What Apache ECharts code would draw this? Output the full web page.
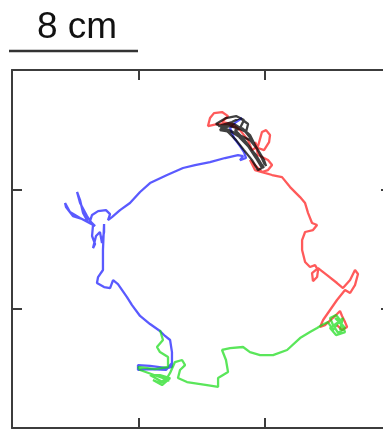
<!DOCTYPE html>
<html><head><meta charset="utf-8">
<script src="https://cdn.jsdelivr.net/npm/echarts@6/dist/echarts.min.js"></script>
<style>html,body{margin:0;padding:0;background:#fff}#c{width:383px;height:431px}</style>
</head><body><div id="c"></div>
<script>
// Trajectories, positions in cm (x to the right, y upward)
var blueTrack = [[14.57,20.78],[14.19,20.51],[13.81,20.11],[14.06,19.44],[14.44,18.90],[14.69,18.50],[14.82,18.10],[14.44,17.96],[14.63,18.23],[14.31,18.30],[13.49,18.10],[12.54,17.83],[11.59,17.63],[10.83,17.43],[9.82,16.96],[8.74,16.42],[8.11,15.82],[7.47,15.08],[6.84,14.61],[6.33,14.14],[6.08,13.94],[6.21,14.34],[5.95,14.61],[5.45,14.54],[5.07,14.28],[4.94,13.87],[5.26,13.54],[4.43,14.01],[3.86,14.21],[3.42,14.81],[3.36,15.08],[3.67,14.48],[4.31,14.08],[4.81,13.81],[4.50,14.41],[4.31,15.28],[4.12,15.82],[4.31,15.08],[4.75,14.21],[5.13,13.61],[5.07,12.87],[5.26,12.33],[5.13,12.06],[5.32,12.87],[5.57,13.14],[5.70,12.40],[5.83,13.14],[5.83,13.67],[5.76,11.93],[5.76,10.59],[5.45,10.12],[5.38,9.72],[5.83,9.45],[6.21,9.38],[6.40,9.92],[6.71,9.65],[7.28,8.78],[7.60,8.24],[8.11,7.51],[8.74,6.97],[9.37,6.50],[9.69,6.17],[10.01,5.90],[10.13,5.09],[10.13,4.09],[9.82,4.02],[8.74,4.16],[7.98,4.22],[7.98,3.89],[8.74,3.95],[9.75,3.89],[10.13,4.36]];
var redTrack = [[14.19,20.11],[13.68,20.38],[13.05,20.38],[12.41,20.24],[12.54,20.78],[12.79,21.11],[13.30,21.18],[13.68,20.91],[13.30,20.51],[13.93,20.38],[14.44,19.97],[14.95,19.30],[15.20,18.63],[15.58,18.90],[15.83,19.84],[16.09,19.97],[16.34,19.64],[16.28,19.17],[15.96,18.63],[15.58,18.77],[15.39,19.17],[15.58,18.30],[16.21,17.96],[16.47,17.63],[16.21,17.29],[15.83,17.16],[15.07,17.96],[15.39,17.29],[15.83,17.16],[16.47,16.96],[17.10,16.82],[17.61,16.15],[18.24,15.48],[18.56,15.08],[18.75,14.41],[19.00,13.74],[19.32,13.61],[19.06,13.27],[18.56,13.14],[18.37,12.60],[18.37,11.93],[18.56,11.13],[18.87,10.79],[19.19,10.92],[19.38,10.59],[19.32,10.12],[19.06,9.85],[19.00,10.39],[19.38,10.72],[19.95,10.25],[20.58,9.72],[20.96,9.38],[21.41,9.92],[21.72,10.59],[21.91,10.32],[21.72,9.58],[21.41,9.05],[21.09,9.25],[20.58,8.58],[20.14,7.91],[19.70,7.24],[19.51,6.77],[19.82,6.90],[20.46,7.51],[20.77,7.84],[20.90,7.51],[21.09,7.10],[21.22,6.77],[20.90,6.57],[20.58,6.90]];
var greenTrack = [[20.77,6.57],[20.96,7.37],[20.65,7.10],[20.14,6.70],[20.52,6.23],[21.09,6.43],[20.90,6.90],[20.46,7.37],[20.77,7.10],[21.09,6.70],[20.65,6.37],[20.33,6.90],[20.14,7.37],[20.52,7.57],[20.77,7.24],[20.33,6.57],[20.01,7.10],[19.63,6.90],[19.32,6.70],[18.87,6.43],[18.24,6.03],[17.42,5.23],[16.53,4.89],[15.71,4.89],[15.07,5.09],[14.63,5.43],[13.81,5.36],[13.30,5.23],[13.55,4.56],[13.68,3.75],[13.05,3.35],[13.05,2.75],[12.35,2.88],[11.08,3.08],[10.51,3.35],[10.64,3.89],[10.96,4.22],[10.77,4.56],[10.32,4.42],[10.01,3.69],[9.82,3.35],[9.37,3.02],[8.93,3.22],[9.50,2.88],[10.01,3.35],[9.37,3.55],[8.74,3.55],[9.50,3.10],[9.95,3.20],[9.40,3.40],[8.11,3.89],[7.98,4.09],[9.06,3.95],[9.88,4.09],[9.88,4.76],[9.37,5.09],[9.18,5.43],[9.56,5.90],[9.37,6.57]];
var blackTrack = [[13.05,20.24],[13.93,20.51],[14.44,20.78],[14.95,20.38],[14.82,19.84],[14.31,20.11],[13.49,20.31],[13.17,19.97],[13.93,19.84],[14.69,19.30],[15.07,18.77],[15.45,18.30],[15.83,17.63],[15.96,17.43],[15.58,17.96],[15.20,18.63],[14.82,19.17],[14.44,19.64],[14.12,19.97],[14.57,20.11],[15.07,19.64],[15.39,18.97],[15.83,18.10],[16.02,17.63],[15.58,18.63],[15.07,19.30],[12.92,20.38],[13.55,20.78],[14.19,20.91],[14.69,20.64],[14.44,20.11],[13.81,20.24],[13.30,20.11],[14.19,19.71],[14.95,18.90],[15.45,18.10],[15.83,17.43],[15.58,17.29],[15.20,17.96],[14.69,18.63],[14.19,19.30],[13.68,19.84],[13.17,20.24],[14.06,20.38],[14.69,19.97],[15.20,19.30],[15.58,18.63],[15.96,17.96],[16.09,17.56]];
var scaleLabel = '8 cm';

var chart = echarts.init(document.getElementById('c'), null, {renderer:'canvas'});
var frameColor = '#3c3c3c';
function axis(pos){
  return {
    type:'value', position:pos, min:0, max:24, interval:8,
    axisLine:{show:true, onZero:false, lineStyle:{color:frameColor, width:2}},
    axisTick:{show:true, inside:true, length:10, lineStyle:{color:frameColor, width:2}},
    axisLabel:{show:false}, splitLine:{show:false}
  };
}
function track(data, color){
  return {type:'line', data:data, showSymbol:false, symbol:'none', smooth:false,
    xAxisIndex:0, yAxisIndex:0,
    lineStyle:{color:color, width:2.3}, z:2};
}
chart.setOption({
  animation:false,
  backgroundColor:'#fff',
  grid:{left:12, top:70, width:379, height:358, outerBoundsMode:'none', containLabel:false},
  xAxis:[axis('bottom'), axis('top')],
  yAxis:[axis('left'), axis('right')],
  series:[
    track(blueTrack,'rgba(20,20,255,0.7)'),
    track(redTrack,'rgba(255,20,20,0.7)'),
    track(greenTrack,'rgba(20,220,20,0.7)'),
    track(blackTrack,'rgba(0,0,0,0.75)')
  ],
  graphic:[
    {type:'line', shape:{x1:9, y1:51, x2:138, y2:51}, style:{stroke:'#333', lineWidth:2.5}},
    {type:'text', x:77, y:46, style:{text:scaleLabel, font:'37px "Liberation Sans", Arial, sans-serif', fill:'#111', textAlign:'center', textVerticalAlign:'bottom'}}
  ]
});
</script></body></html>
